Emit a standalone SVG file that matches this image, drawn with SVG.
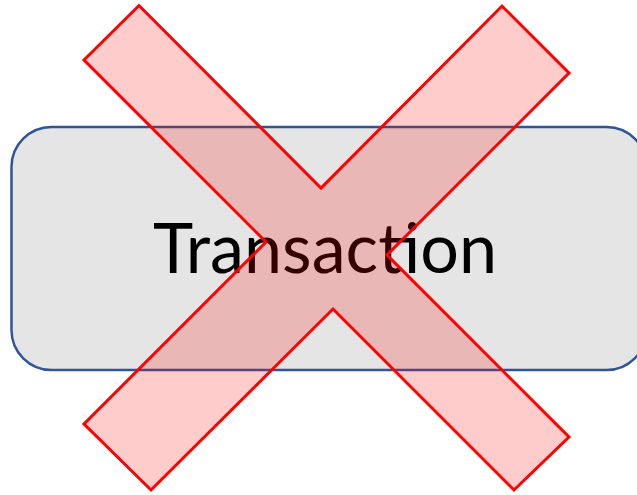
<svg xmlns="http://www.w3.org/2000/svg" width="637" height="495" viewBox="0 0 637 495">
<style>
.box{fill:#e5e5e5;stroke:#2f5597;stroke-width:2.5}
.lbl{font-family:Lato,"Open Sans","Liberation Sans",sans-serif;font-size:70px;fill:#000}
.cross{fill:#ff0000;fill-opacity:0.2;stroke:#ff0000;stroke-width:3;stroke-linejoin:miter}
</style>
<rect width="637" height="495" fill="#ffffff"/>
<g id="transaction">
<rect class="box" x="11.5" y="127" width="635" height="243" rx="40" ry="40"/>
<text class="lbl" x="153" y="273" textLength="344" lengthAdjust="spacingAndGlyphs">Transaction</text>
</g>
<g id="cross">
<polygon class="cross" points="84,60 139,5.5 321,188 502,6 569,73 387,255 569,437 514,490 333,309 151,490 84,424 266,242"/>
</g>
<g id="connectors"></g>
</svg>
